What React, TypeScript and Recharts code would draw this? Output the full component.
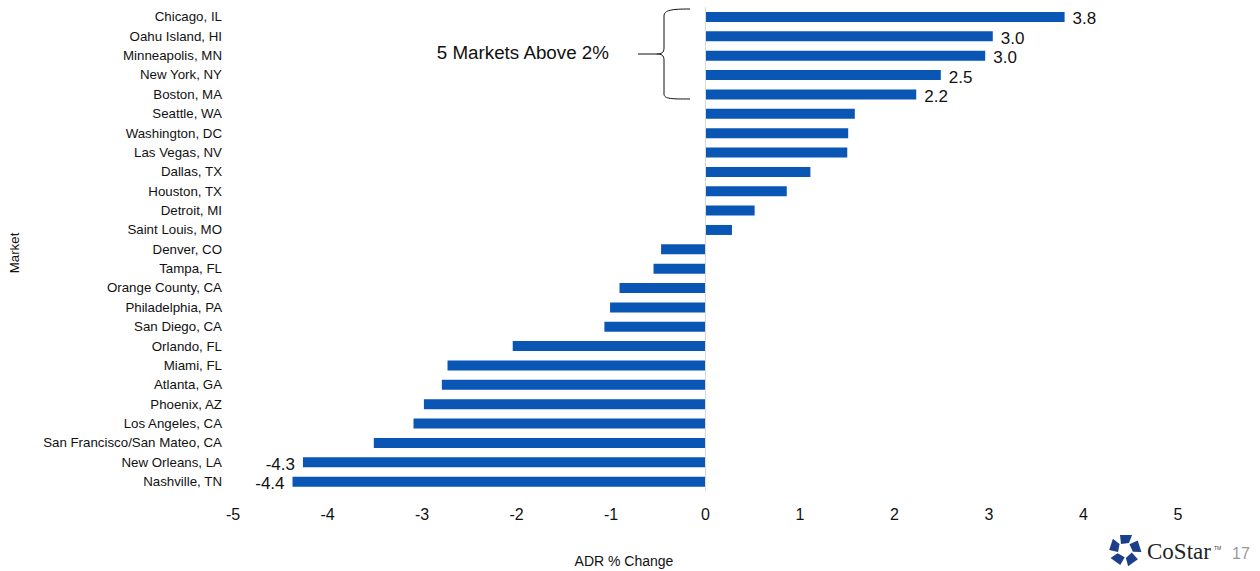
import React from "react";
import {
  BarChart,
  Bar,
  XAxis,
  YAxis,
  ReferenceLine,
  LabelList,
} from "recharts";

const markets = [
  "Chicago, IL",
  "Oahu Island, HI",
  "Minneapolis, MN",
  "New York, NY",
  "Boston, MA",
  "Seattle, WA",
  "Washington, DC",
  "Las Vegas, NV",
  "Dallas, TX",
  "Houston, TX",
  "Detroit, MI",
  "Saint Louis, MO",
  "Denver, CO",
  "Tampa, FL",
  "Orange County, CA",
  "Philadelphia, PA",
  "San Diego, CA",
  "Orlando, FL",
  "Miami, FL",
  "Atlanta, GA",
  "Phoenix, AZ",
  "Los Angeles, CA",
  "San Francisco/San Mateo, CA",
  "New Orleans, LA",
  "Nashville, TN",
];

const adrChange = [
  3.8, 3.04, 2.96, 2.49, 2.23, 1.58, 1.51, 1.5, 1.11, 0.86, 0.52, 0.28,
  -0.47, -0.55, -0.91, -1.01, -1.07, -2.04, -2.73, -2.79, -2.98, -3.09,
  -3.51, -4.26, -4.37,
];

const labeledMarkets = [
  "Chicago, IL",
  "Oahu Island, HI",
  "Minneapolis, MN",
  "New York, NY",
  "Boston, MA",
  "New Orleans, LA",
  "Nashville, TN",
];

const xTicks = [-5, -4, -3, -2, -1, 0, 1, 2, 3, 4, 5];

const data = markets.map((market, i) => ({
  market,
  value: adrChange[i],
}));

const FONT = "'Liberation Sans', Arial, sans-serif";
const BLUE = "#0a56b5";

function ValueLabel(props: any) {
  const { x, y, width, height, value, index } = props;
  if (!labeledMarkets.includes(markets[index])) return null;
  const end = x + width;
  const positive = value >= 0;
  return (
    <text
      x={positive ? end + 8 : end - 8}
      y={y + height / 2 + 3}
      textAnchor={positive ? "start" : "end"}
      dominantBaseline="middle"
      fontSize={17}
      fontFamily={FONT}
      fill="#111"
    >
      {value.toFixed(1)}
    </text>
  );
}

function Logo() {
  const cx = 1125;
  const cy = 550;
  const pieces = [0, 1, 2, 3, 4].map((k) => {
    const a = (k * 72 - 90) * (Math.PI / 180);
    const pts = [
      [-5, -15],
      [7, -15],
      [4, -7],
      [-4, -6],
    ]
      .map(([px, py]) => {
        const rx = px * Math.cos(a + Math.PI / 2) - py * Math.sin(a + Math.PI / 2);
        const ry = px * Math.sin(a + Math.PI / 2) + py * Math.cos(a + Math.PI / 2);
        return `${cx + rx},${cy + ry}`;
      })
      .join(" ");
    return <polygon key={k} points={pts} fill="#1c3f8c" />;
  });
  return <g>{pieces}</g>;
}

export default function App() {
  return (
    <div
      style={{
        position: "absolute",
        left: 0,
        top: 0,
        width: 1260,
        height: 571,
        background: "#fff",
      }}
    >
      <BarChart
        width={1260}
        height={571}
        data={data}
        layout="vertical"
        margin={{ top: 7, right: 82, bottom: 50, left: 0 }}
        barCategoryGap={5}
      >
        <XAxis
          type="number"
          domain={[-5, 5]}
          ticks={xTicks}
          height={30}
          axisLine={false}
          tickLine={false}
          tickSize={0}
          tickMargin={18}
          tick={{ fontSize: 16, fill: "#111", fontFamily: FONT }}
        />
        <YAxis
          type="category"
          dataKey="market"
          width={233}
          axisLine={false}
          tickLine={false}
          tickSize={0}
          tickMargin={11}
          interval={0}
          tick={{ fontSize: 13.3, fill: "#111", fontFamily: FONT }}
        />
        <ReferenceLine x={0} stroke="#d9d9d9" strokeWidth={1} />
        <Bar dataKey="value" fill={BLUE} barSize={10} isAnimationActive={false}>
          <LabelList dataKey="value" content={<ValueLabel />} />
        </Bar>
      </BarChart>
      <svg
        width={1260}
        height={571}
        style={{ position: "absolute", left: 0, top: 0, pointerEvents: "none" }}
      >
        <text
          x={609}
          y={54}
          textAnchor="end"
          dominantBaseline="middle"
          fontSize={18.8}
          fontFamily={FONT}
          fill="#111"
        >
          5 Markets Above 2%
        </text>
        <path
          d="M690,9 C672,9 664,10 664,16 L664,48 C664,53 661,54 657,54 L638,54 M657,54 C661,54 664,55 664,60 L664,94 C664,99 672,99 690,99"
          fill="none"
          stroke="#111"
          strokeWidth={1}
        />
        <text
          x={15}
          y={253}
          transform="rotate(-90 15 253)"
          textAnchor="middle"
          dominantBaseline="middle"
          fontSize={13.3}
          fontFamily={FONT}
          fill="#111"
        >
          Market
        </text>
        <text
          x={624}
          y={562}
          textAnchor="middle"
          dominantBaseline="middle"
          fontSize={14}
          fontFamily={FONT}
          fill="#111"
        >
          ADR % Change
        </text>
        <Logo />
        <text
          x={1147}
          y={559}
          fontSize={23}
          fontFamily="'Liberation Serif', 'DejaVu Serif', serif"
          fill="#222"
        >
          CoStar
        </text>
        <text x={1214} y={550} fontSize={5} fontFamily={FONT} fill="#444">
          TM
        </text>
        <text x={1232} y={559} fontSize={16} fontFamily={FONT} fill="#999">
          17
        </text>
      </svg>
    </div>
  );
}
